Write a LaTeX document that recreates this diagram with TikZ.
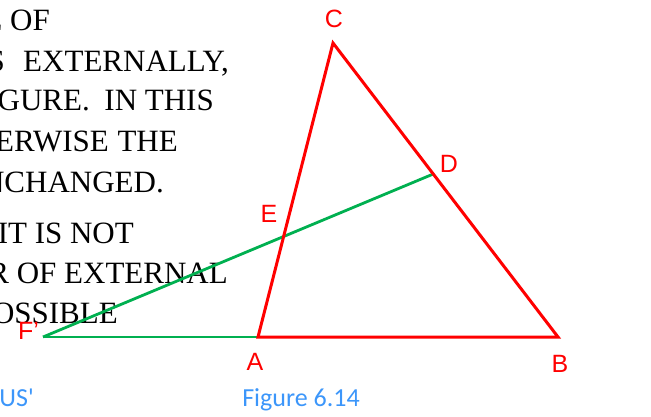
\documentclass[tikz,border=0pt]{standalone}
\usepackage{fontspec}
\setmainfont{Liberation Serif}
\newfontfamily\lsans{Liberation Sans}
\newfontfamily\carl{Carlito}
\definecolor{lblue}{RGB}{60,150,250}
\definecolor{lgreen}{RGB}{0,176,80}
\begin{document}
\begin{tikzpicture}[x=1pt,y=-1pt,
  body/.style={anchor=base east,inner sep=0pt,font=\fontsize{31}{37}\selectfont},
  ptlabel/.style={inner sep=0pt,text=red,font=\lsans\fontsize{25}{30}\selectfont},
  caption/.style={inner sep=0pt,anchor=base,text=lblue,font=\carl\fontsize{26}{31}\selectfont},
  side/.style={draw=red,line width=3pt,line join=miter},
  cut/.style={draw=lgreen,line width=2.8pt}]
\useasboundingbox (0,0) rectangle (651,417);
\begin{scope}
\clip (0,0) rectangle (651,417);
% text lines
\node[body] (t1) at (50,31) {E OF};
\node[body] (t2a) at (5,72) {IS};
\node[body] (t2b) at (229,72) {EXTERNALLY,};
\node[body] (t3a) at (90,111) {FIGURE.};
\node[body] (t3b) at (214,111) {IN THIS};
\node[body] (t4a) at (109,152) {OTHERWISE};
\node[body] (t4b) at (178,152) {THE};
\node[body] (t5) at (164,193) {NCHANGED.};
\node[body] (t6) at (134,243) {IT IS NOT};
\node[body] (t7) at (228,283) {R OF EXTERNAL};
\node[body] (t8) at (118,323) {OSSIBLE};
\node[caption,anchor=base east] (us) at (34,406) {US'};
\end{scope}
% geometry
\coordinate (C) at (333,43);
\coordinate (A) at (258,337);
\coordinate (B) at (558,337);
\coordinate (F) at (43,337);
\coordinate (D) at (433.3,174);
\draw[cut] (F) -- (A);
\draw[cut] (F) -- (D);
\draw[side] (A) -- (C) -- (B) -- cycle;
% labels
\node[ptlabel] (lC) at (334,19) {C};
\node[ptlabel] (lD) at (449,164) {D};
\node[ptlabel] (lE) at (269,214) {E};
\node[ptlabel,anchor=west] (lF) at (18,331) {F’};
\node[ptlabel] (lA) at (255,362) {A};
\node[ptlabel] (lB) at (560,364) {B};
\node[caption] (fig) at (301,406) {Figure 6.14};
\end{tikzpicture}
\end{document}
